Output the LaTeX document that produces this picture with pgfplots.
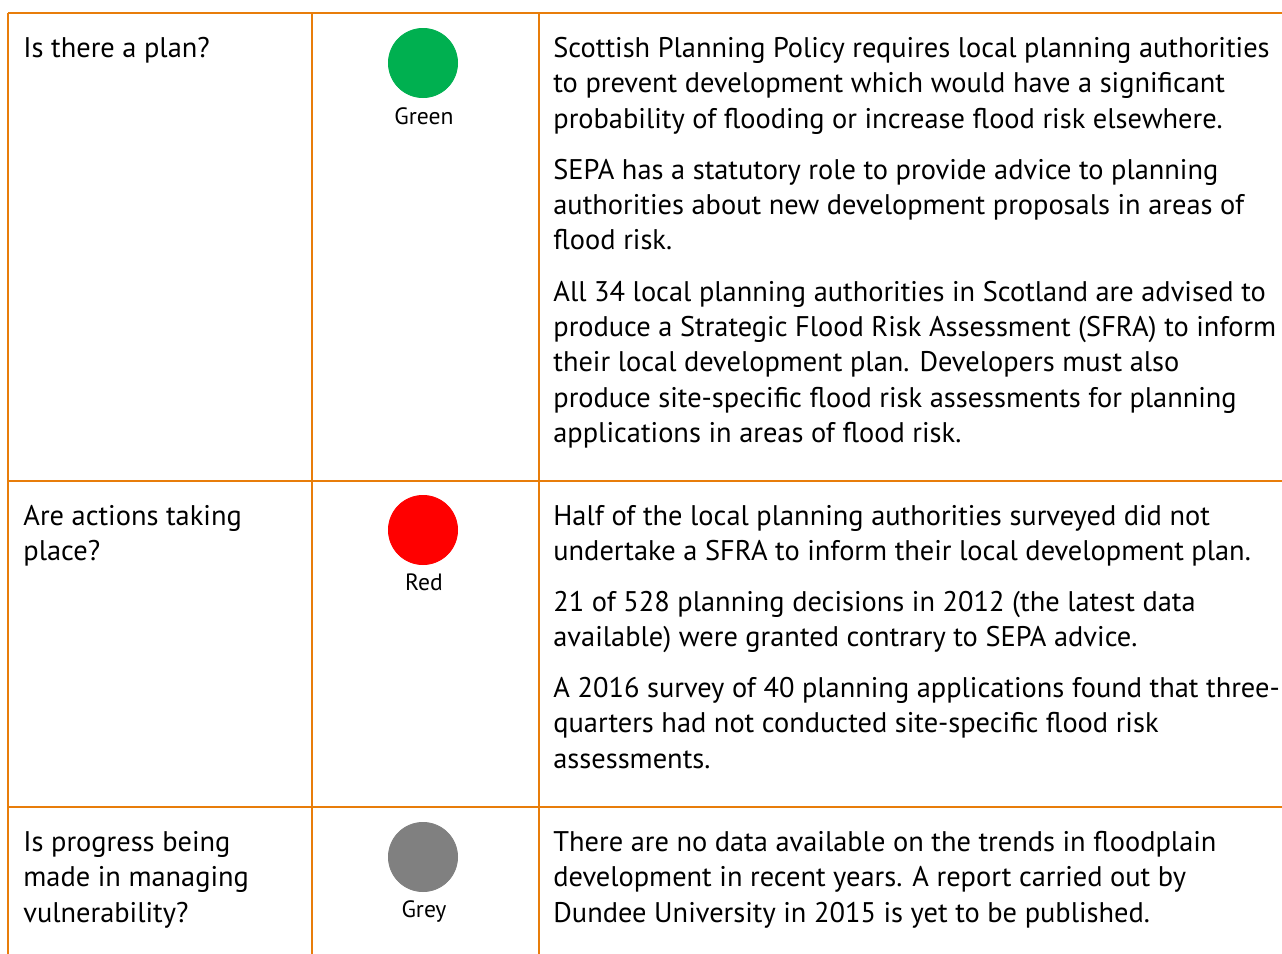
\documentclass[border=0pt]{standalone}
\usepackage{pgfplots}
\pgfplotsset{compat=1.18}
\usepackage{fontspec}
\setmainfont{PT Sans}
\definecolor{gridor}{RGB}{232,125,10}
\definecolor{rgreen}{RGB}{0,176,80}
\definecolor{rred}{RGB}{255,0,0}
\definecolor{rgrey}{RGB}{128,128,128}
\newcommand{\Ln}[3]{\node[anchor=base west,inner sep=0pt,font=\fontsize{14.2}{17}\selectfont] at (axis cs:#1,#2) {#3};}
\newcommand{\Lb}[3]{\node[anchor=base,inner sep=0pt,font=\fontsize{11.8}{14}\selectfont] at (axis cs:#1,#2) {#3};}
\begin{document}
\begin{tikzpicture}
\begin{axis}[
  scale only axis, width=641pt, height=477pt,
  xmin=0, xmax=1282, ymin=0, ymax=954, y dir=reverse,
  hide axis, clip=false]
\coordinate (TL) at (axis cs:0,0);
\coordinate (BR) at (axis cs:1282,954);
% grid lines
\addplot[gridor, line width=1pt, forget plot] coordinates {(8,13) (1282,13)};
\addplot[gridor, line width=1pt, forget plot] coordinates {(8,481) (1282,481)};
\addplot[gridor, line width=1pt, forget plot] coordinates {(8,807) (1282,807)};
\addplot[gridor, line width=1pt, forget plot] coordinates {(8,13) (8,954)};
\addplot[gridor, line width=1pt, forget plot] coordinates {(312,13) (312,954)};
\addplot[gridor, line width=1pt, forget plot] coordinates {(539,13) (539,954)};
% status circles
\addplot[rgreen, only marks, mark=*, mark size=17.3pt, mark options={draw=rgreen, fill=rgreen}] coordinates {(423,63)};
\addplot[rred, only marks, mark=*, mark size=17.3pt, mark options={draw=rred, fill=rred}] coordinates {(423,530)};
\addplot[rgrey, only marks, mark=*, mark size=17.3pt, mark options={draw=rgrey, fill=rgrey}] coordinates {(423,857)};
\Lb{424}{124}{Green}
\Lb{424}{590}{Red}
\Lb{424}{917}{Grey}
% left column
\Ln{23}{57}{Is there a plan?}
\Ln{23}{525}{Are actions taking}
\Ln{23}{560}{place?}
\Ln{23}{851}{Is progress being}
\Ln{23}{886}{made in managing}
\Ln{23}{922}{vulnerability?}
% right column row 1
\Ln{553}{57}{Scottish Planning Policy requires local planning authorities}
\Ln{553}{92}{to prevent development which would have a significant}
\Ln{553}{128}{probability of flooding or increase flood risk elsewhere.}
\Ln{553}{179}{SEPA has a statutory role to provide advice to planning}
\Ln{553}{214}{authorities about new development proposals in areas of}
\Ln{553}{249}{flood risk.}
\Ln{553}{301}{All 34 local planning authorities in Scotland are advised to}
\Ln{553}{336}{produce a Strategic Flood Risk Assessment (SFRA) to inform}
\Ln{553}{371}{their local development plan. Developers must also}
\Ln{553}{407}{produce site-specific flood risk assessments for planning}
\Ln{553}{442}{applications in areas of flood risk.}
% row 2
\Ln{553}{525}{Half of the local planning authorities surveyed did not}
\Ln{553}{560}{undertake a SFRA to inform their local development plan.}
\Ln{553}{611}{21 of 528 planning decisions in 2012 (the latest data}
\Ln{553}{646}{available) were granted contrary to SEPA advice.}
\Ln{553}{697}{A 2016 survey of 40 planning applications found that three-}
\Ln{553}{732}{quarters had not conducted site-specific flood risk}
\Ln{553}{768}{assessments.}
% row 3
\Ln{553}{851}{There are no data available on the trends in floodplain}
\Ln{553}{886}{development in recent years. A report carried out by}
\Ln{553}{922}{Dundee University in 2015 is yet to be published.}
\end{axis}
\pgfresetboundingbox
\path (TL) rectangle (BR);
\end{tikzpicture}
\end{document}
